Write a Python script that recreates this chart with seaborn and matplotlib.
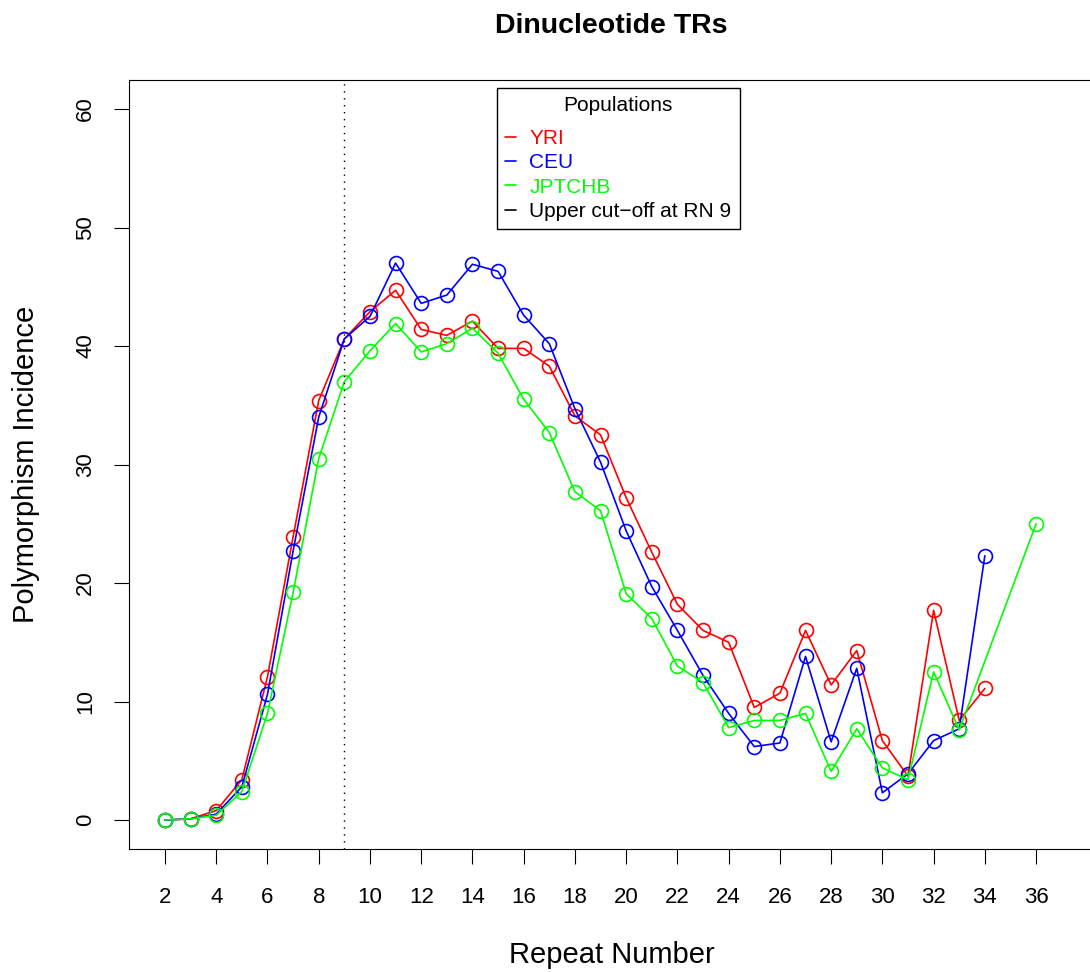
import pandas as pd
import matplotlib
matplotlib.use("Agg")
import matplotlib.pyplot as plt
import seaborn as sns
from matplotlib.lines import Line2D

# Polymorphism incidence by repeat number, per population
rn_yri = list(range(2, 35))
yri = [0, 0.1, 0.8, 3.4, 12.1, 23.9, 35.4, 40.6, 42.9, 44.7, 41.4, 40.9, 42.1,
       39.8, 39.8, 38.3, 34.1, 32.5, 27.2, 22.6, 18.2, 16.0, 15.0, 9.5, 10.7,
       16.0, 11.4, 14.3, 6.7, 3.7, 17.7, 8.4, 11.1]

rn_ceu = list(range(2, 35))
ceu = [0, 0.1, 0.5, 2.8, 10.6, 22.7, 34.0, 40.6, 42.5, 47.0, 43.6, 44.3, 46.9,
       46.3, 42.6, 40.2, 34.7, 30.2, 24.4, 19.7, 16.0, 12.2, 9.0, 6.2, 6.5,
       13.8, 6.6, 12.8, 2.3, 3.9, 6.7, 7.7, 22.3]

rn_jpt = list(range(2, 34)) + [36]
jpt = [0, 0.1, 0.4, 2.4, 9.0, 19.2, 30.5, 37.0, 39.6, 41.9, 39.5, 40.2, 41.5,
       39.4, 35.5, 32.7, 27.7, 26.1, 19.1, 17.0, 13.0, 11.6, 7.8, 8.4, 8.4,
       9.0, 4.1, 7.7, 4.4, 3.4, 12.5, 7.6, 25.0]

populations = ["YRI", "CEU", "JPTCHB"]
colors = {"YRI": "#FF0000", "CEU": "#0000FF", "JPTCHB": "#00FF00"}
cutoff = 9

df = pd.concat([
    pd.DataFrame({"rn": rn_yri, "inc": yri, "pop": "YRI"}),
    pd.DataFrame({"rn": rn_ceu, "inc": ceu, "pop": "CEU"}),
    pd.DataFrame({"rn": rn_jpt, "inc": jpt, "pop": "JPTCHB"}),
])

sns.set_style("ticks")
plt.rcParams["font.family"] = ["Liberation Sans", "DejaVu Sans"]
plt.rcParams["text.color"] = "black"
plt.rcParams["axes.labelcolor"] = "black"

fig = plt.figure(figsize=(10.9, 9.72), dpi=100)
ax = fig.add_axes([0.1188, 0.1265, 0.8858, 0.7912])

for p in populations:
    sns.lineplot(data=df[df["pop"] == p], x="rn", y="inc", ax=ax,
                 color=colors[p], linewidth=1.2, marker="o", markersize=10,
                 markerfacecolor="none", markeredgecolor=colors[p],
                 markeredgewidth=1.2, legend=False)

ax.axvline(cutoff, color="black", linestyle=(0, (1, 4)), linewidth=1)

ax.set_xlim(0.614, 38.3)
ax.set_ylim(-2.45, 62.45)
ax.set_xticks(range(2, 37, 2))
ax.set_yticks(range(0, 61, 10))
for lab in ax.get_yticklabels():
    lab.set_rotation(90)
    lab.set_va("center")
ax.tick_params(axis="both", direction="out", length=11, width=0.8,
               labelsize=16, colors="black")
ax.tick_params(axis="x", pad=16)
ax.tick_params(axis="y", pad=13)
for s in ax.spines.values():
    s.set_visible(True)
    s.set_color("black")
    s.set_linewidth(0.8)

ax.set_xlabel("Repeat Number", fontsize=21, labelpad=24)
ax.set_ylabel("Polymorphism Incidence", fontsize=21, labelpad=25)
fig.suptitle("Dinucleotide TRs", fontsize=20.5, fontweight="bold", x=0.561, y=0.987)

handles = [Line2D([0], [0], color=colors[p], lw=1.2) for p in populations]
handles.append(Line2D([0], [0], color="black", lw=1.2))
labels = populations + ["Upper cut\u2212off at RN 9"]
leg = ax.legend(handles, labels, title="Populations", loc="upper left",
                bbox_to_anchor=(0.3806, 0.9896), borderaxespad=0,
                fontsize=15, title_fontsize=15, handlelength=0.5,
                handletextpad=0.65, labelspacing=0.25, borderpad=0.4,
                fancybox=False, framealpha=1, edgecolor="black",
                labelcolor=[colors[p] for p in populations] + ["black"])
leg.get_frame().set_linewidth(1.0)
# a bit more room under the legend title, like the original
leg._legend_box.sep = 10

fig.savefig("out.png", dpi=100)
